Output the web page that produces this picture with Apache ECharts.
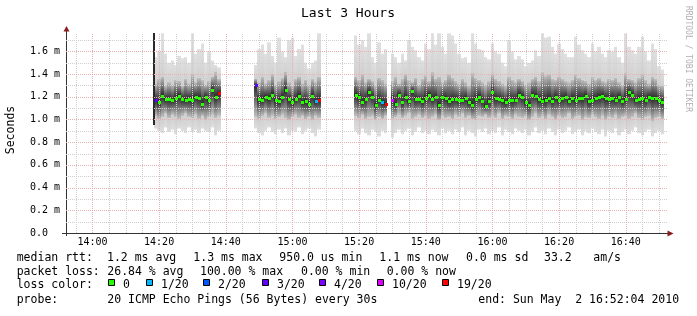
<!DOCTYPE html>
<html><head><meta charset="utf-8">
<script src="https://cdn.jsdelivr.net/npm/echarts@6/dist/echarts.min.js"></script>
<style>html,body{margin:0;padding:0;background:#fff;}#c{width:697px;height:316px;}</style>
</head><body><div id="c"></div>
<script>
// ---- data (values in milliseconds) ----
const timeStart = '13:52:04';
const timeEnd = '16:52:04';
const segmentStart = ['14:19', '14:49', '15:19', '15:30'];
const segmentLength = [20, 20, 10, 82];

const median = [
  1.17,1.15,1.21,1.18,1.18,1.17,1.19,1.21,1.18,1.17,1.18,1.17,1.20,1.19,1.14,1.20,1.17,1.26,1.20,1.23,
  1.30,1.18,1.175,1.20,1.19,1.22,1.17,1.16,1.20,1.26,1.18,1.15,1.18,1.21,1.15,1.16,1.14,1.21,1.16,1.17,
  1.22,1.20,1.15,1.18,1.24,1.20,1.13,1.17,1.15,1.14,
  1.175,1.14,1.22,1.15,1.20,1.16,1.25,1.18,1.18,1.16,
  1.19,1.22,1.18,1.20,1.13,1.20,1.19,1.16,1.18,1.18,
  1.175,1.17,1.19,1.15,1.13,1.18,1.20,1.16,1.12,1.16,
  1.24,1.19,1.18,1.17,1.15,1.17,1.17,1.175,1.22,1.20,
  1.15,1.13,1.22,1.21,1.18,1.16,1.17,1.19,1.16,1.20,
  1.17,1.19,1.20,1.16,1.19,1.17,1.19,1.19,1.21,1.16,
  1.17,1.19,1.20,1.21,1.19,1.18,1.19,1.17,1.20,1.16,
  1.18,1.24,1.22,1.17,1.18,1.19,1.17,1.20,1.19,1.19,
  1.17,1.15
];
const pingMin = [
  0.92,0.90,0.88,0.93,0.89,0.91,0.87,0.92,0.90,0.88,0.93,0.89,0.91,0.88,0.92,0.90,0.89,0.93,0.86,0.90,
  0.92,0.88,0.86,0.90,0.93,0.89,0.87,0.91,0.88,0.92,0.86,0.90,0.89,0.93,0.87,0.90,0.92,0.88,0.85,0.91,
  0.90,0.87,0.92,0.88,0.86,0.91,0.89,0.85,0.90,0.88,
  0.84,0.88,0.91,0.87,0.90,0.92,0.86,0.89,0.93,0.88,
  0.90,0.87,0.91,0.89,0.86,0.92,0.88,0.90,0.87,0.91,
  0.89,0.93,0.86,0.90,0.88,0.85,0.91,0.89,0.92,0.87,
  0.90,0.88,0.93,0.86,0.91,0.89,0.87,0.92,0.90,0.88,
  0.91,0.86,0.89,0.93,0.88,0.90,0.87,0.92,0.89,0.86,
  0.91,0.88,0.90,0.93,0.87,0.89,0.91,0.86,0.90,0.88,
  0.92,0.89,0.87,0.91,0.85,0.90,0.88,0.92,0.86,0.89,
  0.91,0.87,0.90,0.93,0.88,0.86,0.89,0.91,0.85,0.88,
  0.90,0.87
];
const pingMax = [
  1.55,1.60,1.76,1.58,1.50,1.52,1.48,1.56,1.54,1.55,1.50,1.76,1.58,1.62,1.67,1.50,1.60,1.52,1.48,1.46,
  1.48,1.62,1.66,1.58,1.68,1.56,1.50,1.72,1.60,1.55,1.70,1.72,1.56,1.62,1.66,1.50,1.45,1.50,1.52,1.76,
  1.74,1.66,1.70,1.64,1.76,1.55,1.50,1.68,1.58,1.62,
  1.58,1.55,1.50,1.58,1.52,1.70,1.64,1.61,1.55,1.52,
  1.67,1.62,1.76,1.66,1.76,1.64,1.58,1.76,1.74,1.67,
  1.58,1.54,1.55,1.50,1.76,1.67,1.62,1.61,1.55,1.53,
  1.67,1.60,1.58,1.50,1.47,1.70,1.60,1.53,1.56,1.53,
  1.47,1.50,1.52,1.61,1.56,1.76,1.72,1.73,1.64,1.58,
  1.67,1.62,1.58,1.55,1.55,1.73,1.66,1.61,1.58,1.55,
  1.67,1.60,1.64,1.58,1.55,1.61,1.60,1.64,1.55,1.50,
  1.76,1.64,1.61,1.58,1.64,1.73,1.60,1.52,1.67,1.62,
  1.47,1.44
];
const pingLo = [
  1.03,1.00,1.02,1.05,1.01,1.04,1.02,1.00,1.03,1.05,1.02,1.01,1.04,1.00,1.03,0.99,1.02,1.04,1.01,1.03,
  1.02,1.00,1.03,1.05,1.01,1.03,1.00,1.02,1.04,1.01,0.99,1.02,1.04,1.01,1.03,1.00,1.02,0.99,1.03,1.01,
  1.03,1.01,1.04,1.00,1.02,1.03,0.99,1.02,1.00,1.03,
  1.00,1.02,1.04,1.01,1.03,1.05,1.00,1.02,1.04,1.01,
  1.03,1.00,1.02,1.04,0.99,1.03,1.01,1.02,1.00,1.04,
  1.02,1.05,1.01,1.03,1.00,0.99,1.03,1.02,1.04,1.01,
  1.03,1.01,1.05,1.00,1.03,1.02,1.00,1.04,1.02,1.01,
  1.03,0.99,1.02,1.05,1.01,1.03,1.00,1.04,1.02,0.99,
  1.03,1.01,1.02,1.05,1.00,1.02,1.03,0.99,1.02,1.01,
  1.04,1.02,1.00,1.03,0.99,1.02,1.01,1.04,1.00,1.02,
  1.03,1.00,1.02,1.05,1.01,0.99,1.02,1.03,0.98,1.01,
  1.02,1.00
];
const pingHi = [
  1.32,1.36,1.38,1.30,1.33,1.31,1.35,1.34,1.30,1.36,1.32,1.40,1.33,1.37,1.35,1.31,1.34,1.38,1.42,1.36,
  1.36,1.33,1.38,1.32,1.35,1.40,1.31,1.34,1.37,1.42,1.33,1.30,1.36,1.38,1.32,1.35,1.31,1.36,1.33,1.38,
  1.38,1.35,1.40,1.33,1.36,1.34,1.30,1.37,1.35,1.32,
  1.34,1.38,1.32,1.36,1.40,1.35,1.33,1.37,1.31,1.36,
  1.39,1.34,1.42,1.36,1.38,1.33,1.35,1.40,1.37,1.34,
  1.32,1.36,1.33,1.30,1.41,1.37,1.35,1.33,1.31,1.34,
  1.40,1.36,1.34,1.32,1.30,1.38,1.35,1.33,1.36,1.34,
  1.31,1.33,1.36,1.38,1.34,1.42,1.39,1.40,1.36,1.35,
  1.38,1.36,1.34,1.33,1.35,1.40,1.37,1.35,1.34,1.32,
  1.38,1.35,1.37,1.34,1.33,1.36,1.35,1.37,1.33,1.31,
  1.41,1.36,1.35,1.33,1.37,1.40,1.35,1.32,1.38,1.36,
  1.31,1.30
];
// [time, lost pings out of 20]; all other steps lost 0
const lossPoints = [['14:19',3],['14:38',19],['14:49',3],['15:07',1],['15:08',19],['15:27',1],['15:28',19],['15:30',10]];
// dark edge line at start of first block: [time, low, high]
const edgeLine = ['14:18:24', 0.951, 1.762];

const xTickLabels = ['14:00','14:20','14:40','15:00','15:20','15:40','16:00','16:20','16:40'];
const yTickLabels = ['0.0  ','0.2 m','0.4 m','0.6 m','0.8 m','1.0 m','1.2 m','1.4 m','1.6 m'];
const yMax = 1.762;

const lossColors = {0:'#26ff00',1:'#00b8ff',2:'#0059ff',3:'#5e00ff',4:'#7e00ff',10:'#dd00ff',19:'#ff0000'};
const legendLines = [
  {y:258, items:[['median rtt:',16.7],['1.2 ms avg',107],['1.3 ms max',193.3],['950.0 us min',279.3],['1.1 ms now',379.3],['0.0 ms sd',466],['33.2',544],['am/s',593.3]]},
  {y:272, items:[['packet loss:',16.7],['26.84 % avg',107.3],['100.00 % max',200],['0.00 % min',301],['0.00 % now',386.7]]},
  {y:285.5, items:[['loss color:',16.7]]},
  {y:300, items:[['probe:',16.7],['20 ICMP Echo Pings (56 Bytes) every 30s',107.3],['end: Sun May  2 16:52:04 2010',478.3]]}
];
const lossLegend = [['0',0,108],['1/20',1,146],['2/20',2,203],['3/20',3,262],['4/20',4,319],['10/20',10,377],['19/20',19,442]];

// ---- helpers ----
function toMin(s){const p=s.split(':').map(Number);return p[0]*60+p[1]+(p[2]||0)/60;}
const xMin = toMin(timeStart), xMax = toMin(timeEnd);
const lossMap = {};
lossPoints.forEach(p=>{lossMap[toMin(p[0])]=p[1];});
const smokeData = [];
let k = 0;
segmentStart.forEach((s,si)=>{
  const t0 = toMin(s);
  for(let j=0;j<segmentLength[si];j++){
    const t=t0+j;
    smokeData.push([t,pingMin[k],pingMax[k],pingLo[k],pingHi[k],median[k],lossMap[t]||0]);
    k++;
  }
});
const xMajor = xTickLabels.map(toMin);
const xMinor = [];
for(let m=Math.ceil(xMin/5)*5;m<xMax;m+=5){ if(xMajor.indexOf(m)<0) xMinor.push(m); }
const yMajor = yTickLabels.map((l,i)=>i*0.2).filter(v=>v>0);
const yMinor = [];
for(let v=0.1;v<yMax;v+=0.2) yMinor.push(+v.toFixed(1));

const FONT = '"DejaVu Sans Mono", monospace';
const chart = echarts.init(document.getElementById('c'), null, {renderer:'canvas'});

function gridRender(vertical, color){
  return function(params, api){
    const v = api.value(0);
    let shape;
    if(vertical){
      const a = api.coord([v,0]), b = api.coord([v,yMax]);
      const x = Math.round(a[0])+0.5;
      shape = {x1:x,y1:a[1],x2:x,y2:b[1]};
    } else {
      const a = api.coord([xMin,v]), b = api.coord([xMax,v]);
      const y = Math.round(a[1])+0.5;
      shape = {x1:a[0],y1:y,x2:b[0]+2,y2:y};
    }
    return {type:'line', shape, style:{stroke:color,lineWidth:1,lineDash:[1,1]}};
  };
}

const graphics = [];
legendLines.forEach(line=>{
  line.items.forEach(it=>{
    graphics.push({type:'text',x:it[1],y:line.y,style:{text:it[0],font:'11.5px '+FONT,fill:'#000',verticalAlign:'middle'}});
  });
});
lossLegend.forEach(it=>{
  graphics.push({type:'rect',shape:{x:it[2]+0.5,y:279.5,width:6,height:6},style:{fill:lossColors[it[1]],stroke:'#000',lineWidth:1}});
  graphics.push({type:'text',x:it[2]+15,y:285.5,style:{text:it[0],font:'11.5px '+FONT,fill:'#000',verticalAlign:'middle'}});
});
graphics.push({type:'text',x:348,y:14,style:{text:'Last 3 Hours',font:'13px '+FONT,fill:'#000',align:'center',verticalAlign:'middle'}});
graphics.push({type:'text',x:688,y:59,rotation:-Math.PI/2,style:{text:'RRDTOOL / TOBI OETIKER',font:'8px '+FONT,fill:'#b0b0b0',align:'center',verticalAlign:'middle'}});
graphics.push({type:'text',x:11.5,y:130,rotation:Math.PI/2,style:{text:'Seconds',font:'11.5px '+FONT,fill:'#000',align:'center',verticalAlign:'middle'}});
// axis extensions and arrows
graphics.push({type:'line',shape:{x1:66.5,y1:236,x2:66.5,y2:30},style:{stroke:'#333',lineWidth:1}});
graphics.push({type:'line',shape:{x1:62,y1:233.5,x2:670,y2:233.5},style:{stroke:'#333',lineWidth:1}});
graphics.push({type:'polygon',shape:{points:[[63.5,31.5],[69.5,31.5],[66.5,26]]},style:{fill:'#8b1c1c'}});
graphics.push({type:'polygon',shape:{points:[[667.5,230.5],[667.5,236.5],[673.5,233.5]]},style:{fill:'#8b1c1c'}});

const option = {
  animation:false,
  backgroundColor:'#fff',
  grid:{left:66,top:33,width:600,height:200,containLabel:false},
  xAxis:{type:'value',min:xMin,max:xMax,
    axisLine:{show:false},
    axisTick:{show:false},
    splitLine:{show:false},
    axisLabel:{customValues:xMajor,margin:4,fontFamily:FONT,fontSize:10,color:'#000',
      formatter:v=>{const h=Math.floor(v/60),m=Math.round(v-h*60);return h+':'+(m<10?'0':'')+m;}}
  },
  yAxis:{type:'value',min:0,max:yMax,interval:0.2,
    axisLine:{show:false},axisTick:{show:false},splitLine:{show:false},
    axisLabel:{margin:6,fontFamily:FONT,fontSize:10,color:'#000',
      formatter:v=>{const i=Math.round(v/0.2);return Math.abs(v-i*0.2)<1e-6&&i<yTickLabels.length?yTickLabels[i]:'';}}
  },
  graphic:graphics,
  series:[
    {type:'custom',z:2,clip:true,data:smokeData,encode:{x:0,y:[1,2]},
      renderItem:function(params,api){
        const t=api.value(0);
        const w=api.size([1,0])[0];
        const pMin=api.coord([t,api.value(1)]), pMax=api.coord([t,api.value(2)]);
        const pLo=api.coord([t,api.value(3)]), pHi=api.coord([t,api.value(4)]);
        const pMed=api.coord([t,api.value(5)]);
        const x0=Math.round(pMin[0]-w/2), x1=Math.round(pMin[0]+w/2);
        const mp=Math.min(0.95,Math.max(0.05,(pMed[1]-pHi[1])/(pLo[1]-pHi[1])));
        const grad=new echarts.graphic.LinearGradient(0,0,0,1,[
          {offset:0,color:'#c2c2c2'},{offset:mp*0.35,color:'#8e8e8e'},{offset:mp*0.7,color:'#565656'},
          {offset:mp,color:'#2a2a2a'},
          {offset:mp+(1-mp)*0.3,color:'#565656'},{offset:mp+(1-mp)*0.65,color:'#8e8e8e'},{offset:1,color:'#c2c2c2'}]);
        const gradOuter=new echarts.graphic.LinearGradient(0,0,0,1,[
          {offset:0,color:'#e0e0e0'},{offset:0.55,color:'#d8d8d8'},{offset:1,color:'#d0d0d0'}]);
        return {type:'group',children:[
          {type:'rect',shape:{x:x0,y:pMax[1],width:x1-x0,height:pHi[1]-pMax[1]},style:{fill:gradOuter}},
          {type:'rect',shape:{x:x0,y:pLo[1],width:x1-x0,height:pMin[1]-pLo[1]},style:{fill:new echarts.graphic.LinearGradient(0,0,0,1,[{offset:0,color:'#cfcfcf'},{offset:1,color:'#dedede'}])}},
          {type:'rect',shape:{x:x0,y:pHi[1],width:x1-x0,height:pLo[1]-pHi[1]},style:{fill:grad}}
        ]};
      }},
    {type:'custom',z:3,data:[[toMin(edgeLine[0]),edgeLine[1],edgeLine[2]]],
      renderItem:function(params,api){
        const a=api.coord([api.value(0),api.value(1)]), b=api.coord([api.value(0),api.value(2)]);
        return {type:'rect',shape:{x:Math.round(a[0])-1,y:b[1],width:2,height:a[1]-b[1]},style:{fill:'#2a2a2a'}};
      }},
    {type:'custom',z:4,silent:true,data:xMinor.map(v=>[v]),renderItem:gridRender(true,'#cfcfcf')},
    {type:'custom',z:4,silent:true,data:yMinor.map(v=>[0,v]),encode:{y:1},renderItem:function(p,api){return gridRender(false,'#cfcfcf')(p,{value:()=>api.value(1),coord:api.coord});}},
    {type:'custom',z:5,silent:true,data:xMajor.map(v=>[v]),renderItem:gridRender(true,'#e8b0b0')},
    {type:'custom',z:5,silent:true,data:yMajor.map(v=>[0,v]),encode:{y:1},renderItem:function(p,api){return gridRender(false,'#e8b0b0')(p,{value:()=>api.value(1),coord:api.coord});}},
    {type:'custom',z:6,data:smokeData,encode:{x:0,y:5},
      renderItem:function(params,api){
        const t=api.value(0);
        const p=api.coord([t,api.value(5)]);
        const c=lossColors[api.value(6)]||'#26ff00';
        return {type:'rect',shape:{x:Math.round(p[0])-1,y:Math.round(p[1])-1,width:3,height:3},style:{fill:c}};
      }}
  ]
};
chart.setOption(option);
</script></body></html>
